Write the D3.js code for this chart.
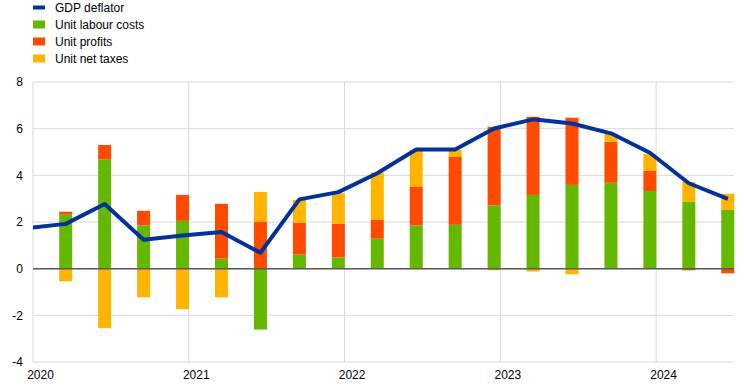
<!DOCTYPE html>
<html>
<head>
<meta charset="utf-8">
<script src="https://cdn.jsdelivr.net/npm/d3@7"></script>
<style>
  body { margin: 0; background: #fff; }
  svg { font-family: "Liberation Sans", Arial, sans-serif; }
</style>
</head>
<body>
<div id="wrapper"></div>
<script>
// quarters, the first one only feeds the line (it sits left of the plot and is clipped)
const quarters = ["2019Q4",
    "2020Q1", "2020Q2", "2020Q3", "2020Q4",
    "2021Q1", "2021Q2", "2021Q3", "2021Q4",
    "2022Q1", "2022Q2", "2022Q3", "2022Q4",
    "2023Q1", "2023Q2", "2023Q3", "2023Q4",
    "2024Q1", "2024Q2"];
const gdpDeflator = [1.74,
    1.92, 2.77, 1.24, 1.42,
    1.57, 0.68, 2.97, 3.28,
    4.09, 5.11, 5.11, 6.01,
    6.40, 6.22, 5.80, 4.97,
    3.66, 2.99];
const unitLabourCosts = [null,
    2.31, 4.67, 1.85, 2.05,
    0.43, -2.61, 0.60, 0.48,
    1.28, 1.85, 1.88, 2.71,
    3.16, 3.59, 3.68, 3.33,
    2.86, 2.52];
const unitProfits = [null,
    0.13, 0.63, 0.63, 1.11,
    2.35, 2.00, 1.37, 1.44,
    0.81, 1.65, 2.91, 3.37,
    3.35, 2.88, 1.76, 0.86,
    -0.07, -0.20];
const unitNetTaxes = [null,
    -0.54, -2.55, -1.23, -1.74,
    -1.23, 1.29, 0.98, 1.31,
    2.03, 1.59, 0.30, -0.07,
    -0.12, -0.24, 0.34, 0.72,
    0.86, 0.69];
const yearTicks = [2020, 2021, 2022, 2023, 2024];
const yTicks = [-4, -2, 0, 2, 4, 6, 8];

const seriesNames = ["Unit labour costs", "Unit profits", "Unit net taxes"];
const colors = {
    "GDP deflator": "#003299",
    "Unit labour costs": "#65b800",
    "Unit profits": "#ff4b00",
    "Unit net taxes": "#ffb400"
};

// quarter label -> decimal year position of its bar
const quarterPos = (q) => +q.slice(0, 4) + (+q.slice(5) - 1) / 4 + 0.21;

const rows = quarters.map((q, i) => ({
    quarter: q,
    x: quarterPos(q),
    deflator: gdpDeflator[i],
    "Unit labour costs": unitLabourCosts[i],
    "Unit profits": unitProfits[i],
    "Unit net taxes": unitNetTaxes[i]
}));
const barRows = rows.filter(d => d["Unit labour costs"] !== null);

const dimension = {
    width: 744,
    height: 390,
    margin: { top: 82, left: 33, bottom: 28, right: 10 }
};
dimension.boundedWidth = dimension.width - dimension.margin.left - dimension.margin.right;
dimension.boundedHeight = dimension.height - dimension.margin.top - dimension.margin.bottom;

const svg = d3.select("#wrapper").append("svg")
    .attr("width", dimension.width)
    .attr("height", dimension.height);

const bounded = svg.append("g")
    .attr("transform", `translate(${dimension.margin.left},${dimension.margin.top})`);

const xScale = d3.scaleLinear()
    .domain([2020, 2024.5])
    .range([0, dimension.boundedWidth]);
const yScale = d3.scaleLinear()
    .domain([-4, 8])
    .range([dimension.boundedHeight, 0]);

svg.append("defs").append("clipPath").attr("id", "plotclip")
    .append("rect")
    .attr("x", 0).attr("y", -10)
    .attr("width", dimension.boundedWidth + 2)
    .attr("height", dimension.boundedHeight + 20);

// grid
const grid = bounded.append("g");
grid.selectAll(".hgrid").data(yTicks).join("line")
    .attr("x1", 0).attr("x2", dimension.boundedWidth)
    .attr("y1", d => yScale(d)).attr("y2", d => yScale(d))
    .attr("stroke", "#d9d9d9").attr("stroke-width", 1);
grid.selectAll(".vgrid").data(yearTicks).join("line")
    .attr("x1", d => xScale(d)).attr("x2", d => xScale(d))
    .attr("y1", 0).attr("y2", dimension.boundedHeight)
    .attr("stroke", "#d9d9d9").attr("stroke-width", 1);

// y axis labels (plain hyphen for negatives, as in the original)
const yAxis = bounded.append("g")
    .call(d3.axisLeft(yScale).tickValues(yTicks).tickFormat(d => String(d)).tickSize(0).tickPadding(10));
yAxis.select(".domain").remove();
yAxis.selectAll("text")
    .attr("font-size", 12)
    .attr("fill", "#000")
    .attr("font-family", "Liberation Sans, Arial, sans-serif");

// x axis labels
const xAxis = bounded.append("g")
    .attr("transform", `translate(0,${dimension.boundedHeight})`)
    .call(d3.axisBottom(xScale).tickValues(yearTicks).tickFormat(d => String(d)).tickSize(0).tickPadding(8));
xAxis.select(".domain").remove();
xAxis.selectAll("text")
    .attr("font-size", 12)
    .attr("fill", "#000")
    .attr("dx", 7)
    .attr("font-family", "Liberation Sans, Arial, sans-serif");

// stacked bars
const stack = d3.stack().keys(seriesNames).offset(d3.stackOffsetDiverging);
const stacked = stack(barRows);
const barWidth = 13;

const plot = bounded.append("g").attr("clip-path", "url(#plotclip)");
plot.selectAll(".series").data(stacked).join("g")
    .attr("fill", d => colors[d.key])
    .selectAll("rect").data(d => d).join("rect")
    .attr("x", d => xScale(d.data.x) - barWidth / 2)
    .attr("width", barWidth)
    .attr("y", d => yScale(Math.max(d[0], d[1])))
    .attr("height", d => Math.abs(yScale(d[0]) - yScale(d[1])));

// zero line
bounded.append("line")
    .attr("x1", 0).attr("x2", dimension.boundedWidth)
    .attr("y1", yScale(0)).attr("y2", yScale(0))
    .attr("stroke", "#595959").attr("stroke-width", 1.5);

// line
const lineGenerator = d3.line()
    .x(d => xScale(d.x))
    .y(d => yScale(d.deflator));
plot.append("path")
    .attr("d", lineGenerator(rows))
    .attr("fill", "none")
    .attr("stroke", colors["GDP deflator"])
    .attr("stroke-width", 4)
    .attr("stroke-linejoin", "round");

// legend
const legendNames = ["GDP deflator"].concat(seriesNames);
const legend = svg.append("g").attr("transform", "translate(33,0)");
const item = legend.selectAll("g").data(legendNames).join("g")
    .attr("transform", (d, i) => `translate(0,${7.5 + i * 17})`);
item.append("rect")
    .attr("x", 0)
    .attr("width", 12)
    .attr("y", (d, i) => i === 0 ? -2 : -4)
    .attr("height", (d, i) => i === 0 ? 4 : 8)
    .attr("fill", d => colors[d]);
item.append("text")
    .attr("x", 22)
    .attr("dy", "0.35em")
    .attr("font-size", 12)
    .attr("fill", "#000")
    .text(d => d);
</script>
</body>
</html>
